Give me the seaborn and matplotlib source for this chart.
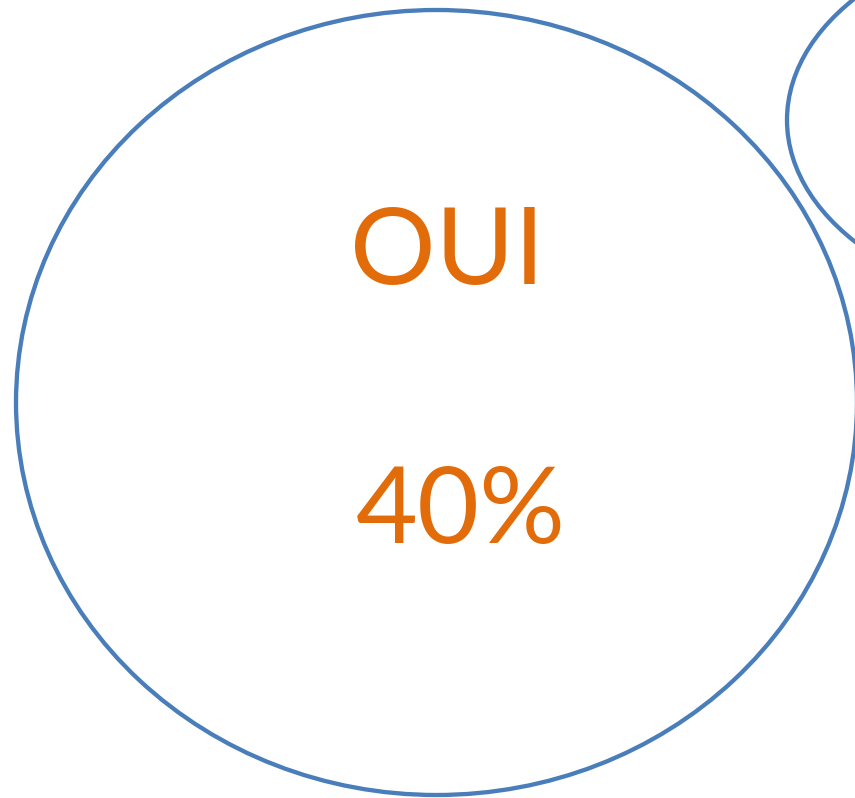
import matplotlib
matplotlib.use("Agg")
import matplotlib.pyplot as plt
from matplotlib.patches import Ellipse
import seaborn as sns

# bubbles (pixel space of the picture)
labels = ["OUI", ""]
values = ["40%", ""]
centre_x = [436.5, 1087]
centre_y = [402.5, 120]
width = [841, 600]
height = [785, 384]

sns.set_theme(style="white")
plt.rcParams['font.family'] = ['Lato', 'DejaVu Sans']

fig = plt.figure(figsize=(8.55, 7.98), dpi=100)
ax = fig.add_axes([0, 0, 1, 1])
ax.set_xlim(0, 855)
ax.set_ylim(798, 0)
ax.axis('off')

blue = '#4A7EBB'
orange = '#E36C0A'

for cx, cy, w, h in zip(centre_x, centre_y, width, height):
    ax.add_patch(Ellipse((cx, cy), w, h, fill=False, edgecolor=blue, linewidth=3.1))

ax.text(447, 284, labels[0], color=orange, fontsize=77,
        ha='center', va='baseline')
ax.text(461, 543, values[0], color=orange, fontsize=77,
        ha='center', va='baseline')

fig.savefig('out.png', dpi=100)
